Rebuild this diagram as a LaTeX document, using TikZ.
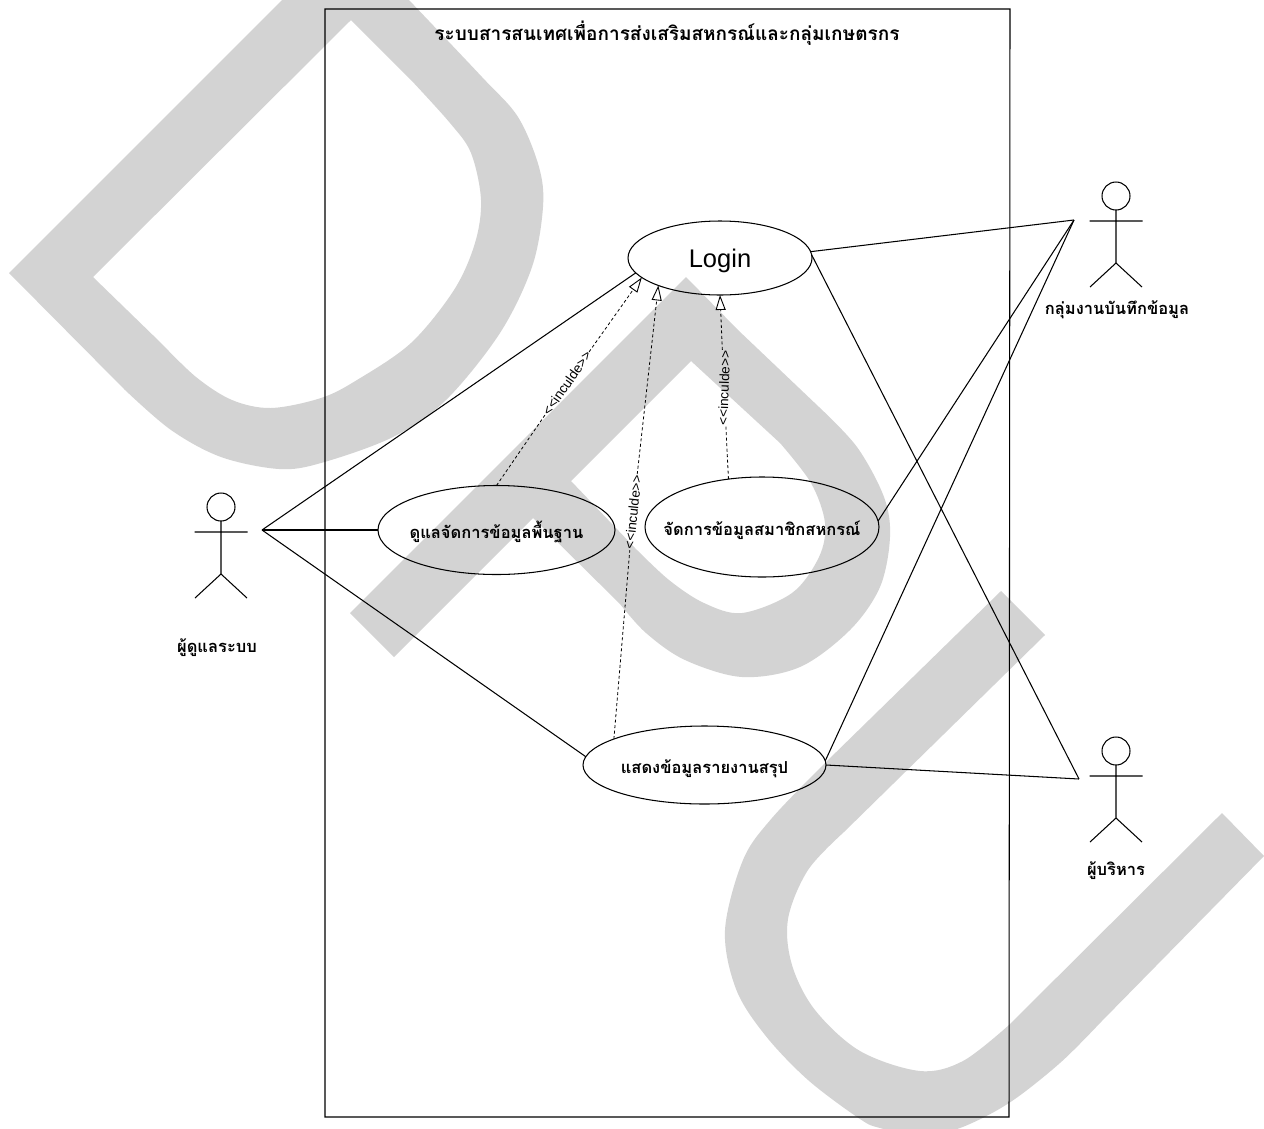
\documentclass[tikz,border=0pt]{standalone}
\usepackage{fontspec}
\usetikzlibrary{shapes.geometric,arrows.meta}
\setmainfont{Liberation Sans}
\newfontfamily\thaifont[Script=Thai]{Loma}
\definecolor{wm}{HTML}{D3D3D3}
\tikzset{
 ln/.style={draw=black,line width=1.05pt},
 uc/.style={ellipse,ln,inner sep=0pt,outer sep=0pt},
 thai/.style={font=\thaifont\bfseries\fontsize{16.5}{20}\selectfont,inner sep=0pt},
 thaititle/.style={font=\thaifont\bfseries\fontsize{19}{22}\selectfont,inner sep=0pt},
 inc/.style={font=\fontsize{13.5}{15}\selectfont,inner sep=1pt,outer sep=0pt},
 dep/.style={draw=black,line width=0.8pt,dash pattern=on 3pt off 2.5pt},
 tip/.style={-{Triangle[open,fill=white,length=15pt,width=10pt,line width=0.9pt]}},
}
\newcommand{\inoval}[2][-8pt]{\makebox[0pt]{\smash{\raisebox{#1}{#2}}}}
\newcommand{\stick}[2]{%
 \draw[ln] (#1,#2) circle (14);
 \draw[ln] (#1,#2+14) -- (#1,#2+67) (#1-26.5,#2+25) -- (#1+26.5,#2+25)
   (#1-26,#2+91) -- (#1,#2+67) -- (#1+26,#2+91);
}
\begin{document}
\begin{tikzpicture}[x=1pt,y=-1pt]
\useasboundingbox (0,0) rectangle (1264,1128);
\begin{scope}
\clip (0,0) rectangle (1264,1128);
% watermark
\fill[wm,even odd rule]
 (9,273) -- (285,-3) -- (406,-3) -- plot[smooth,tension=.55] coordinates {(409,0) (482,77) (518,117) (539,167) (543,207) (532,267) (500,333) (446,400) (393,437) (321,463) (279,469) (221,457) (171,430) (125,390)} -- cycle
 (351,20) -- (93,277) -- (161,343) -- plot[smooth,tension=.55] coordinates {(161,343) (196,377) (232,400) (271,408) (321,398) (357,380) (411,343) (454,290) (475,243) (481,200) (471,153) (450,123) (411,80)} -- cycle;
\fill[wm,even odd rule]
 (350,613) -- (686,277) -- (738,330) -- plot[smooth,tension=.55] coordinates {(819,407) (857,447) (884,497) (890,537) (880,587) (850,630) (800,667) (742,677) (685,660) (646,633) (620,604)} -- (533,518) -- (394,657) -- cycle
 (691,361) -- (571,481) -- (635,548) -- plot[smooth,tension=.55] coordinates {(635,548) (669,580) (704,603) (742,613) (792,593) (819,557) (825,523) (811,483) (780,443)} -- cycle;
\fill[wm,even odd rule]
 (1001,591) -- (1045,635) -- (844,832) -- plot[smooth,tension=.55] coordinates {(844,832) (808,870) (788,919) (792,965) (815,1010) (860,1051) (920,1071) (963,1061) (1009,1025)} -- (1222,813) -- (1264,856) -- (1100,1023) -- plot[smooth,tension=.55] coordinates {(1100,1023) (1060,1063) (1009,1103) (960,1128) (920,1136) (880,1128) (860,1119) (808,1080) (765,1035) (736,989) (725,930) (743,860) (772,818) (826,762)} -- cycle;
\end{scope}
% system boundary
\draw[ln] (325,9) -- (1010,9) -- (1009,1117) -- (325,1117) -- cycle;
\node[thaititle] (title) at (667,33) {ระบบสารสนเทศเพื่อการส่งเสริมสหกรณ์และกลุ่มเกษตรกร};
% use cases
\node[uc,minimum width=184pt,minimum height=74pt,font=\fontsize{25.5}{28}\selectfont] (login) at (720,258) {\inoval[-9pt]{Login}};
\node[uc,thai,minimum width=237pt,minimum height=89pt] (base) at (496.5,530) {\inoval{ดูแลจัดการข้อมูลพื้นฐาน}};
\node[uc,thai,minimum width=234pt,minimum height=100pt] (member) at (762,527) {\inoval{จัดการข้อมูลสมาชิกสหกรณ์}};
\node[uc,thai,minimum width=243pt,minimum height=78pt] (report) at (704.5,765) {\inoval{แสดงข้อมูลรายงานสรุป}};
% actors
\stick{221}{507}
\stick{1116}{196}
\stick{1116}{751}
\node[thai] (admin) at (217,648) {ผู้ดูแลระบบ};
\node[thai] (staff) at (1117,310) {กลุ่มงานบันทึกข้อมูล};
\node[thai] (exec) at (1116,871) {ผู้บริหาร};
\coordinate (hubL) at (262,530);
\coordinate (hubR) at (1074,220);
\coordinate (hubB) at (1079,779);
% associations
\draw[ln] (hubL) -- (login.190);
\draw[ln] (hubL) -- (base.west);
\draw[ln] (hubL) -- (report.176);
\draw[ln] (hubR) -- (login.4);
\draw[ln] (hubR) -- (member.3.5);
\draw[ln] (hubR) -- (report.2);
\draw[ln] (hubB) -- (login.2);
\draw[ln] (hubB) -- (report.east);
% include
\node[inc,rotate=55] (i1) at (567,383) {<{}<inculde>{}>};
\node[inc,rotate=84] (i2) at (633,512) {<{}<inculde>{}>};
\node[inc,rotate=88] (i3) at (724,388) {<{}<inculde>{}>};
\draw[dep] (base.north) -- (i1);
\draw[dep,tip] (i1) -- (login.194);
\draw[dep] (report.164) -- (i2);
\draw[dep,tip] (i2) -- (login.204);
\draw[dep] (member.125) -- (i3);
\draw[dep,tip] (i3) -- (login.south);
\end{tikzpicture}
\end{document}
